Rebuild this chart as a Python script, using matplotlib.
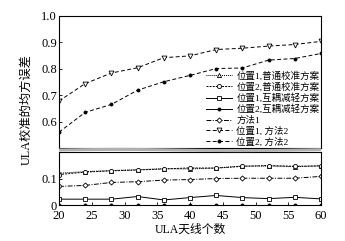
import matplotlib
matplotlib.use("Agg")
import matplotlib.pyplot as plt
from matplotlib.patches import Polygon
import numpy as np

plt.rcParams['font.family'] = ['Liberation Serif', 'Noto Sans CJK SC']
plt.rcParams['axes.unicode_minus'] = False

# ---- 数据----
n_ant = [20, 24, 28, 32, 36, 40, 44, 48, 52, 56, 60]
pos1_normal = [0.120, 0.126, 0.130, 0.133, 0.137, 0.136, 0.140, 0.147, 0.147, 0.145, 0.147]
pos2_normal = [0.115, 0.124, 0.129, 0.132, 0.136, 0.140, 0.139, 0.146, 0.149, 0.146, 0.148]
pos1_mc = [0.022, 0.022, 0.022, 0.032, 0.019, 0.028, 0.036, 0.028, 0.024, 0.029, 0.023]
pos2_mc = [0.001, 0.001, 0.001, 0.001, 0.001, 0.001, 0.001, 0.001, 0.001, 0.001, 0.001]
method1 = [0.070, 0.074, 0.085, 0.088, 0.094, 0.096, 0.100, 0.101, 0.101, 0.101, 0.108]
pos1_m2 = [0.678, 0.744, 0.784, 0.804, 0.842, 0.849, 0.873, 0.878, 0.886, 0.892, 0.904]
pos2_m2 = [0.560, 0.635, 0.665, 0.719, 0.751, 0.775, 0.801, 0.803, 0.833, 0.839, 0.858]

labels = ["位置1,普通校准方案", "位置2,普通校准方案", "位置1,互耦减轻方案",
          "位置2,互耦减轻方案", "方法1", "位置1, 方法2", "位置2, 方法2"]
series = [pos1_normal, pos2_normal, pos1_mc, pos2_mc, method1, pos1_m2, pos2_m2]
styles = [
    dict(ls=(0, (1, 1)), marker="^", mfc="white", ms=3),
    dict(ls=(0, (2, 1.2)), marker="o", mfc="white", ms=3),
    dict(ls="-", marker="s", mfc="white", ms=3),
    dict(ls="-", marker="o", mfc="black", ms=2.2),
    dict(ls=(0, (5, 1.5, 1, 1.5)), marker="D", mfc="white", ms=2.6),
    dict(ls=(0, (4, 2.5)), marker="v", mfc="white", ms=3.5),
    dict(ls=(0, (4, 2.5)), marker="o", mfc="black", ms=2.2),
]

W, H = 345, 241
fig = plt.figure(figsize=(W / 100, H / 100), dpi=100)
L, R = 59 / W, 321 / W
ax_top = fig.add_axes([L, 1 - 148 / H, R - L, (148 - 16) / H])
ax_bot = fig.add_axes([L, 1 - 205 / H, R - L, (205 - 152) / H])

for ax in (ax_top, ax_bot):
    for s, st, lab in zip(series, styles, labels):
        ax.plot(n_ant, s, color="black", lw=0.7, mec="black", mew=0.6, label=lab, **st)
    ax.set_xlim(20, 60)
    ax.tick_params(direction="in", length=2.5, width=0.6, labelsize=9, pad=1.5)
    for sp in ax.spines.values():
        sp.set_linewidth(0.8)

ax_top.set_ylim(0.5, 1.0)
ax_top.set_yticks([0.6, 0.7, 0.8, 0.9, 1.0])
ax_top.set_yticklabels(["0.6", "0.7", "0.8", "0.9", "1.0"])
ax_top.tick_params(axis="x", bottom=False, labelbottom=False)

ax_bot.set_ylim(0, 0.2)
ax_bot.set_yticks([0, 0.1])
ax_bot.set_yticklabels(["0", "0.1"])
ax_bot.set_xticks(range(20, 61, 5))
ax_bot.tick_params(axis="x", pad=3.5)

# 断轴的灰带
xs = np.linspace(L, R, 40)
wave = 0.6 * np.sin(np.linspace(0, 2.2 * np.pi, 40)) / H
band = np.concatenate([np.c_[xs, 1 - 148.5 / H + wave], np.c_[xs[::-1], 1 - 151.5 / H + wave[::-1]]])
fig.patches.append(Polygon(band, closed=True, transform=fig.transFigure,
                           facecolor="#b0b0b0", edgecolor="none"))

ax_top.legend(loc="lower right", bbox_to_anchor=(1.0, 0.0), frameon=False, fontsize=6.8,
              handlelength=2.7, handletextpad=0.5, labelspacing=0.17, borderaxespad=0.0,
              borderpad=0.15)

ax_bot.set_xlabel("ULA天线个数", fontsize=8.5, labelpad=1)
fig.text(27 / W, 1 - 110 / H, "ULA校准的均方误差", rotation=90, rotation_mode="anchor",
         ha="center", va="center", fontsize=8.8)

fig.savefig("out.png", dpi=100)
